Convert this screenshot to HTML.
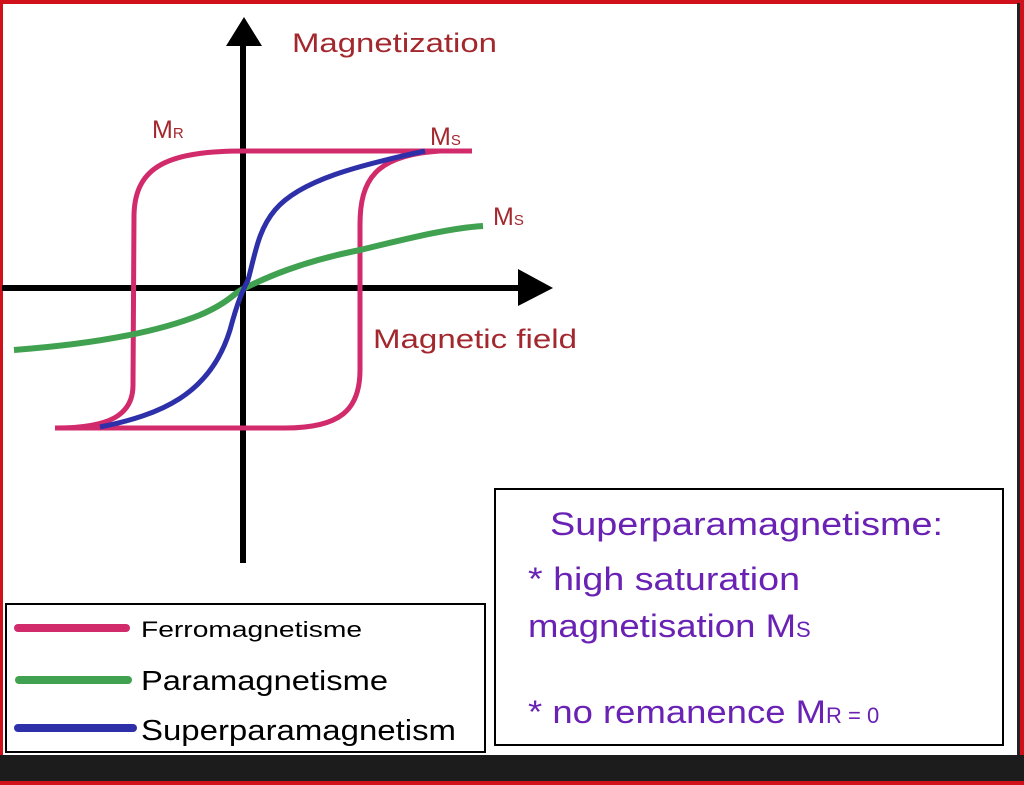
<!DOCTYPE html>
<html><head><meta charset="utf-8"><style>
html,body{margin:0;padding:0;background:#fff;}
svg{display:block;}
text{font-family:"Liberation Sans",sans-serif;}
</style></head><body>
<svg width="1024" height="785" viewBox="0 0 1024 785" xmlns="http://www.w3.org/2000/svg">
<rect x="0" y="0" width="1024" height="785" fill="#fff"/>
<rect x="0" y="0" width="1024" height="4" fill="#d0101a"/>
<rect x="0" y="0" width="3" height="785" fill="#d0101a"/>
<rect x="1017" y="3" width="3" height="755" fill="#222"/>
<rect x="1020" y="0" width="4" height="785" fill="#d0101a"/>
<rect x="0" y="755" width="1024" height="27" fill="#1c1c1c"/>
<rect x="0" y="781" width="1024" height="4" fill="#d0101a"/>

<line x1="243" y1="40" x2="243" y2="563" stroke="#000" stroke-width="6"/>
<polygon points="226,46 262,46 244,17" fill="#000"/>
<line x1="2" y1="288" x2="522" y2="288" stroke="#000" stroke-width="6"/>
<polygon points="518,269 518,306 553,288" fill="#000"/>

<path d="M472,151 L245,151 C170,151 135,165 134,215 L133,385 C133,415 110,428 55,428 L285,428 C340,428 360,410 360,370 L360,225 C360,180 375,155 440,151" fill="none" stroke="#d12b6c" stroke-width="5"/>
<path d="M14,350 C80,345 150,335 200,315 C230,302 235,292 243,289 C265,278 300,262 360,250 C410,238 450,228 483,226" fill="none" stroke="#40a150" stroke-width="6"/>
<path d="M100,427 C160,415 210,395 230,330 C238,300 243,290 248,280 C255,255 258,230 275,210 C300,180 360,165 425,151" fill="none" stroke="#2d30a8" stroke-width="5"/>

<g fill="#a3282e">
<text x="292" y="52" font-size="27" textLength="205" lengthAdjust="spacingAndGlyphs">Magnetization</text>
<text x="152" y="138" font-size="25">M<tspan font-size="15">R</tspan></text>
<text x="430" y="145" font-size="25">M<tspan font-size="15">S</tspan></text>
<text x="493" y="225" font-size="25">M<tspan font-size="15">S</tspan></text>
<text x="373" y="348" font-size="27" textLength="204" lengthAdjust="spacingAndGlyphs">Magnetic field</text>
</g>

<rect x="6" y="604" width="479" height="148" fill="#fff" stroke="#000" stroke-width="2"/>
<line x1="18" y1="628" x2="126" y2="628" stroke="#d12b6c" stroke-width="8" stroke-linecap="round"/>
<line x1="19" y1="680" x2="128" y2="680" stroke="#40a150" stroke-width="8" stroke-linecap="round"/>
<line x1="18" y1="728" x2="133" y2="728" stroke="#2d30a8" stroke-width="8" stroke-linecap="round"/>
<text x="141" y="637" font-size="22" textLength="221" lengthAdjust="spacingAndGlyphs">Ferromagnetisme</text>
<text x="141" y="690" font-size="28" textLength="247" lengthAdjust="spacingAndGlyphs">Paramagnetisme</text>
<text x="141" y="740" font-size="29" textLength="315" lengthAdjust="spacingAndGlyphs">Superparamagnetism</text>

<rect x="495" y="489" width="508" height="256" fill="#fff" stroke="#000" stroke-width="2"/>
<g fill="#6a22b4">
<text x="550" y="535" font-size="32" textLength="393" lengthAdjust="spacingAndGlyphs">Superparamagnetisme:</text>
<text x="528" y="590" font-size="32" textLength="272" lengthAdjust="spacingAndGlyphs">* high saturation</text>
<text x="528" y="637" font-size="32"><tspan textLength="268" lengthAdjust="spacingAndGlyphs">magnetisation M</tspan><tspan font-size="22">S</tspan></text>
<text x="528" y="723" font-size="32"><tspan textLength="298" lengthAdjust="spacingAndGlyphs">* no remanence M</tspan><tspan font-size="22">R = 0</tspan></text>
</g>
</svg>
</body></html>
